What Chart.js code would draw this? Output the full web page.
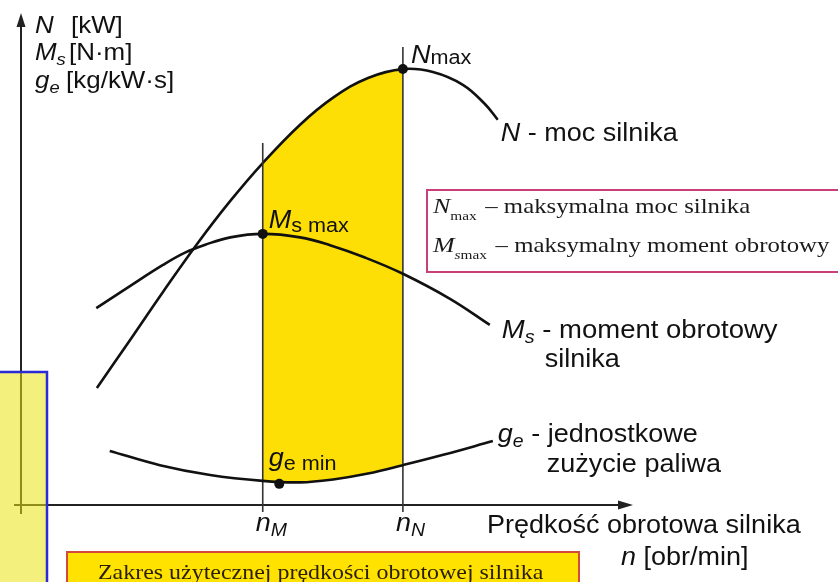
<!DOCTYPE html>
<html><head><meta charset="utf-8">
<script src="https://cdn.jsdelivr.net/npm/chart.js@4"></script>
<style>html,body{margin:0;padding:0;background:#fff;overflow:hidden}</style>
</head><body>
<canvas id="c" width="838" height="582" style="display:block;width:838px;height:582px"></canvas>
<script>
const powerX  = [12.4, 17.8, 23.2, 28.8, 34.2, 39.5, 45.6, 51.0, 56.7, 62.4, 67.3, 72.2, 75.8, 77.9];
const powerY  = [23.8, 33.5, 43.3, 53.1, 61.8, 69.5, 77.3, 82.8, 86.8, 88.6, 88.0, 85.4, 81.5, 78.3];
const torqueX = [12.3, 17.8, 23.2, 26.8, 30.1, 34.2, 39.5, 45.6, 50.5, 56.2, 62.4, 70.1, 76.6];
const torqueY = [40.0, 44.5, 48.8, 51.3, 52.9, 54.4, 55.1, 54.4, 52.8, 50.3, 47.0, 41.9, 36.6];
const fuelX   = [14.5, 22.7, 30.9, 39.5, 45.6, 51.0, 56.7, 62.4, 69.0, 77.1];
const fuelY   = [11.0, 8.1, 6.1, 4.9, 4.6, 5.2, 6.4, 8.1, 10.2, 13.0];
const nM = 39.5, nN = 62.4;               // usable speed range
const nMTop = 73.6, nNTop = 93.1, lineBottom = -1.4;
const peakX = [62.4, 39.5, 42.2];         // Nmax, Ms max, ge min
const peakY = [88.6, 55.1, 4.3];
const tickLabels = [['n','M'], ['n','N']];

const pts = (xs, ys) => xs.map((x, i) => ({x, y: ys[i]}));

const SANS = '"Liberation Sans", Arial, sans-serif';
const SERIF = '"Liberation Serif", "Times New Roman", serif';

function rich(ctx, x, y, parts, sx, color) {
  ctx.save(); ctx.translate(x, y); ctx.scale(sx || 1, 1);
  ctx.textBaseline = 'alphabetic'; ctx.textAlign = 'left'; ctx.fillStyle = color || '#111';
  let cx = 0;
  for (const p of parts) { ctx.font = p.f; ctx.fillText(p.t, cx + (p.dx || 0), p.dy || 0); cx += ctx.measureText(p.t).width + (p.dx || 0); }
  ctx.restore();
}
const I = s => 'italic ' + s + 'px ' + SANS, R = s => s + 'px ' + SANS;
const IS = s => 'italic ' + s + 'px ' + SERIF, RS = s => s + 'px ' + SERIF;

const deco = {
  id: 'deco',
  beforeDatasetsDraw(chart) {
    const {ctx, chartArea: a} = chart;
    ctx.save();
    ctx.strokeStyle = '#222'; ctx.fillStyle = '#222'; ctx.lineWidth = 2;
    ctx.beginPath(); ctx.moveTo(a.left, a.bottom + 9); ctx.lineTo(a.left, a.top + 10); ctx.stroke();
    ctx.beginPath(); ctx.moveTo(a.left, a.top); ctx.lineTo(a.left - 4.5, a.top + 14); ctx.lineTo(a.left + 4.5, a.top + 14); ctx.closePath(); ctx.fill();
    ctx.beginPath(); ctx.moveTo(a.left - 7, a.bottom); ctx.lineTo(a.right - 10, a.bottom); ctx.stroke();
    ctx.beginPath(); ctx.moveTo(a.right, a.bottom); ctx.lineTo(a.right - 15, a.bottom - 4.5); ctx.lineTo(a.right - 15, a.bottom + 4.5); ctx.closePath(); ctx.fill();
    ctx.restore();
  },
  afterDraw(chart) {
    const {ctx} = chart;
    const xs = chart.scales.x, ys = chart.scales.y;
    const px = v => xs.getPixelForValue(v), py = v => ys.getPixelForValue(v);
    const sx = 1.08;
    rich(ctx, 35, 33, [{t: 'N', f: I(24)}, {t: '[kW]', f: R(24), dx: 16}], sx);
    rich(ctx, 35, 60, [{t: 'M', f: I(24)}, {t: 's', f: I(17), dy: 5}, {t: '[N·m]', f: R(24), dx: 3}], sx);
    rich(ctx, 35, 88, [{t: 'g', f: I(24)}, {t: 'e', f: I(17), dy: 5}, {t: '[kg/kW·s]', f: R(24), dx: 6}], sx);
    const nL = powerX.length - 1, tL = torqueX.length - 1, fL = fuelX.length - 1;
    rich(ctx, px(powerX[nL]) + 3, py(powerY[nL]) + 21, [{t: 'N', f: I(25)}, {t: ' - moc silnika', f: R(25)}], sx);
    rich(ctx, px(torqueX[tL]) + 12, py(torqueY[tL]) + 13, [{t: 'M', f: I(25)}, {t: 's', f: I(18), dy: 5}, {t: ' - moment obrotowy', f: R(25)}], 1.1);
    rich(ctx, px(torqueX[tL]) + 55, py(torqueY[tL]) + 42, [{t: 'silnika', f: R(25)}], sx);
    rich(ctx, px(fuelX[fL]) + 5, py(fuelY[fL]) + 1, [{t: 'g', f: I(25)}, {t: 'e', f: I(18), dy: 5}, {t: ' - jednostkowe', f: R(25)}], sx);
    rich(ctx, px(fuelX[fL]) + 54, py(fuelY[fL]) + 31, [{t: 'zużycie paliwa', f: R(25)}], sx);
    rich(ctx, 487, 533, [{t: 'Prędkość obrotowa silnika', f: R(25)}], sx);
    rich(ctx, 621, 565, [{t: 'n', f: I(25)}, {t: ' [obr/min]', f: R(25)}], sx);
    [nM, nN].forEach((v, i) => {
      rich(ctx, px(v) - 7, 531, [{t: tickLabels[i][0], f: I(25)}, {t: tickLabels[i][1], f: I(18), dy: 5}], sx);
    });
    rich(ctx, px(peakX[0]) + 8, py(peakY[0]) - 6, [{t: 'N', f: I(25)}, {t: 'max', f: R(20), dy: 1}], sx);
    rich(ctx, px(peakX[1]) + 6, py(peakY[1]) - 6, [{t: 'M', f: I(25)}, {t: 's max', f: R(20), dy: 4}], sx);
    rich(ctx, px(nM) + 6, py(peakY[2]) - 18, [{t: 'g', f: I(25)}, {t: 'e min', f: R(20), dy: 4}], sx);

    ctx.save();
    ctx.strokeStyle = '#C8407A'; ctx.lineWidth = 2; ctx.fillStyle = '#fff';
    ctx.fillRect(427, 190, 420, 82); ctx.strokeRect(427, 190, 420, 82);
    ctx.restore();
    rich(ctx, 433, 213, [{t: 'N', f: IS(22)}, {t: 'max', f: RS(13), dy: 7}, {t: ' – maksymalna moc silnika', f: RS(21), dx: 2}], 1.18, '#1a1a1a');
    rich(ctx, 433, 252, [{t: 'M', f: IS(22)}, {t: 's', f: IS(13), dy: 7}, {t: 'max', f: RS(13), dy: 7}, {t: ' – maksymalny moment obrotowy', f: RS(21), dx: 2}], 1.18, '#1a1a1a');

    ctx.save();
    ctx.fillStyle = '#FFE200'; ctx.fillRect(67, 552, 512, 40);
    ctx.strokeStyle = '#D44A3A'; ctx.lineWidth = 2; ctx.strokeRect(67, 552, 512, 40);
    ctx.restore();
    rich(ctx, 98, 579, [{t: 'Zakres użytecznej prędkości obrotowej silnika', f: RS(21)}], 1.14, '#2a1f05');

    ctx.save();
    ctx.fillStyle = 'rgba(235,228,20,0.55)'; ctx.fillRect(-2, 372, 49, 215);
    ctx.strokeStyle = '#2B2BD6'; ctx.lineWidth = 2.5; ctx.strokeRect(-2, 372, 49, 215);
    ctx.restore();
  }
};

const black = '#111';
const yellow = '#FDDF05';
const inUsable = c => (c.p0.parsed.x >= nM - 1e-9 && c.p1.parsed.x <= nN + 1e-9) ? yellow : 'rgba(0,0,0,0)';
new Chart(document.getElementById('c'), {
  type: 'line',
  data: {
    datasets: [
      {label: 'N', data: pts(powerX, powerY), borderColor: black, borderWidth: 2.6, pointRadius: 0, tension: 0.4,
       fill: 2, backgroundColor: 'rgba(0,0,0,0)', segment: {backgroundColor: inUsable}, order: 5},
      {label: 'Ms', data: pts(torqueX, torqueY), borderColor: black, borderWidth: 2.6, pointRadius: 0, tension: 0.4, fill: false, order: 1},
      {label: 'ge', data: pts(fuelX, fuelY), borderColor: black, borderWidth: 2.6, pointRadius: 0, tension: 0.4, fill: false, order: 1},
      {label: 'nM', data: [{x: nM, y: lineBottom}, {x: nM, y: nMTop}], borderColor: '#333', borderWidth: 1.6, pointRadius: 0, fill: false, clip: false, order: 3},
      {label: 'nN', data: [{x: nN, y: lineBottom}, {x: nN, y: nNTop}], borderColor: '#333', borderWidth: 1.6, pointRadius: 0, fill: false, clip: false, order: 3},
      {label: 'peaks', data: pts(peakX, peakY), showLine: false, pointRadius: 5, pointBackgroundColor: black, pointBorderColor: black, pointBorderWidth: 0, clip: false, order: 0}
    ]
  },
  options: {
    responsive: false, animation: false, events: [],
    layout: {padding: {left: 21, top: 13, right: 205, bottom: 77}},
    plugins: {legend: {display: false}, tooltip: {enabled: false}},
    scales: {
      x: {type: 'linear', min: 0, max: 100, display: false},
      y: {type: 'linear', min: 0, max: 100, display: false}
    }
  },
  plugins: [deco]
});
</script>
</body></html>
